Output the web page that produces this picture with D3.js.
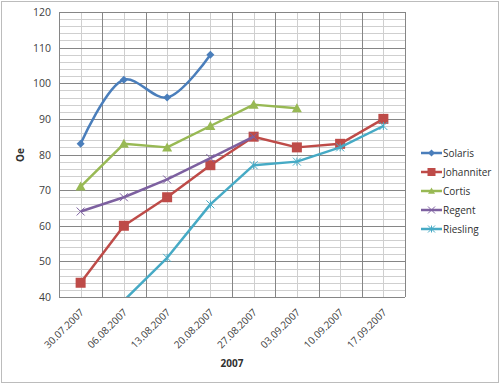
<!DOCTYPE html>
<html>
<head>
<meta charset="utf-8">
<script src="https://cdn.jsdelivr.net/npm/d3@7"></script>
<style>
  body { margin: 0; background: #fff; }
  svg { font-family: "Open Sans", "DejaVu Sans", sans-serif; }
</style>
</head>
<body>
<svg id="chart"></svg>
<script>
const dates = ["30.07.2007", "06.08.2007", "13.08.2007", "20.08.2007", "27.08.2007", "03.09.2007", "10.09.2007", "17.09.2007"];
const seriesNames = ["Solaris", "Johanniter", "Cortis", "Regent", "Riesling"];
const solaris = [83, 101, 96, 108, null, null, null, null];
const johanniter = [44, 60, 68, 77, 85, 82, 83, 90];
const cortis = [71, 83, 82, 88, 94, 93, null, null];
const regent = [64, 68, 73, 79, 85, null, null, null];
const riesling = [null, 39, 51, 66, 77, 78, 82, 88];
const yTicks = [40, 50, 60, 70, 80, 90, 100, 110, 120];
const colors = ["#4a7ebb", "#be4b48", "#98b954", "#7d60a0", "#46aac5"];

const svgWidth = 500, svgHeight = 384;
const plot = { left: 59, top: 12, right: 405, bottom: 297 };

const svg = d3.select("#chart")
  .attr("width", svgWidth)
  .attr("height", svgHeight);

// outer border
svg.append("rect")
  .attr("x", 1.5).attr("y", 1.5)
  .attr("width", svgWidth - 3).attr("height", svgHeight - 3)
  .attr("fill", "none").attr("stroke", "#bcbcbc");

const x = d3.scaleBand().domain(dates).range([plot.left, plot.right]);
const y = d3.scaleLinear().domain([40, 120]).range([plot.bottom, plot.top]);
const cx = (d) => x(d) + x.bandwidth() / 2;

// minor horizontal grid
svg.append("g").selectAll("line")
  .data(d3.range(40, 121, 2).filter((v) => v % 10 !== 0))
  .enter().append("line")
  .attr("x1", plot.left).attr("x2", plot.right)
  .attr("y1", (d) => Math.round(y(d)) + 0.5).attr("y2", (d) => Math.round(y(d)) + 0.5)
  .attr("stroke", "#cfcfcf");

// minor vertical grid (category centres)
svg.append("g").selectAll("line")
  .data(dates)
  .enter().append("line")
  .attr("x1", (d) => Math.round(cx(d)) + 0.5).attr("x2", (d) => Math.round(cx(d)) + 0.5)
  .attr("y1", plot.top).attr("y2", plot.bottom)
  .attr("stroke", "#cfcfcf");

// major grid
svg.append("g").selectAll("line")
  .data(yTicks)
  .enter().append("line")
  .attr("x1", plot.left).attr("x2", plot.right)
  .attr("y1", (d) => Math.round(y(d)) + 0.5).attr("y2", (d) => Math.round(y(d)) + 0.5)
  .attr("stroke", "#868686");

svg.append("g").selectAll("line")
  .data(dates.concat(["end"]))
  .enter().append("line")
  .attr("x1", (d, i) => Math.round(plot.left + i * x.bandwidth()) + 0.5)
  .attr("x2", (d, i) => Math.round(plot.left + i * x.bandwidth()) + 0.5)
  .attr("y1", plot.top).attr("y2", plot.bottom)
  .attr("stroke", "#868686");

// y axis labels
svg.append("g").selectAll("text")
  .data(yTicks)
  .enter().append("text")
  .attr("x", 51).attr("y", (d) => y(d) + 4)
  .attr("text-anchor", "end")
  .attr("font-size", 10.5)
  .attr("fill", "#404040")
  .text((d) => d);

// x axis labels
svg.append("g").selectAll("text")
  .data(dates)
  .enter().append("text")
  .attr("transform", (d) => `translate(${cx(d) + 4},${plot.bottom + 16}) rotate(-45)`)
  .attr("text-anchor", "end")
  .attr("font-size", 10)
  .attr("fill", "#404040")
  .text((d) => d);

svg.append("text")
  .attr("x", 232).attr("y", 367)
  .attr("text-anchor", "middle")
  .attr("font-size", 10).attr("font-weight", "bold")
  .attr("fill", "#303030")
  .text("2007");

svg.append("text")
  .attr("transform", "translate(24,155) rotate(-90)")
  .attr("text-anchor", "middle")
  .attr("font-size", 10).attr("font-weight", "bold")
  .attr("fill", "#303030")
  .text("Oe");

const data = [solaris, johanniter, cortis, regent, riesling];
const shapes = ["diamond", "square", "triangle", "x", "star"];

svg.append("clipPath").attr("id", "plotclip")
  .append("rect")
  .attr("x", plot.left).attr("y", plot.top)
  .attr("width", plot.right - plot.left).attr("height", plot.bottom - plot.top);

const drawMarker = (g, shape, color, px, py, s) => {
  if (shape === "diamond") {
    g.append("path").attr("d", `M${px},${py - s}L${px + s},${py}L${px},${py + s}L${px - s},${py}Z`).attr("fill", color);
  } else if (shape === "square") {
    g.append("rect").attr("x", px - s).attr("y", py - s).attr("width", 2 * s).attr("height", 2 * s).attr("fill", color);
  } else if (shape === "triangle") {
    g.append("path").attr("d", `M${px},${py - s}L${px + s},${py + s * 0.8}L${px - s},${py + s * 0.8}Z`).attr("fill", color);
  } else if (shape === "x") {
    g.append("path").attr("d", `M${px - s},${py - s}L${px + s},${py + s}M${px - s},${py + s}L${px + s},${py - s}`).attr("stroke", color).attr("stroke-width", 1);
  } else {
    g.append("path").attr("d", `M${px - s},${py - s}L${px + s},${py + s}M${px - s},${py + s}L${px + s},${py - s}M${px},${py - s}L${px},${py + s}`).attr("stroke", color).attr("stroke-width", 1);
  }
};

const sizes = [4, 5, 5, 4, 4];

data.forEach((vals, si) => {
  const pts = vals.map((v, i) => ({ d: dates[i], v })).filter((p) => p.v !== null);
  const line = d3.line()
    .x((p) => cx(p.d))
    .y((p) => y(p.v))
    .curve(si === 0 ? d3.curveCatmullRom.alpha(0.5) : d3.curveLinear);
  const g = svg.append("g").attr("clip-path", "url(#plotclip)");
  g.append("path")
    .attr("d", line(pts))
    .attr("fill", "none")
    .attr("stroke", colors[si])
    .attr("stroke-width", 2.5)
    .attr("stroke-linejoin", "round");
  pts.forEach((p) => {
    if (p.v >= 40) drawMarker(g, shapes[si], colors[si], cx(p.d), y(p.v), sizes[si]);
  });
});

// legend
const legend = svg.append("g");
seriesNames.forEach((name, i) => {
  const ly = 153 + i * 19;
  legend.append("line")
    .attr("x1", 421).attr("x2", 442)
    .attr("y1", ly).attr("y2", ly)
    .attr("stroke", colors[i]).attr("stroke-width", 2.5);
  drawMarker(legend, shapes[i], colors[i], 431.5, ly, i === 1 ? 4 : 3.5);
  legend.append("text")
    .attr("x", 443).attr("y", ly + 3.5)
    .attr("font-size", 10)
    .attr("fill", "#303030")
    .text(name);
});
</script>
</body>
</html>
